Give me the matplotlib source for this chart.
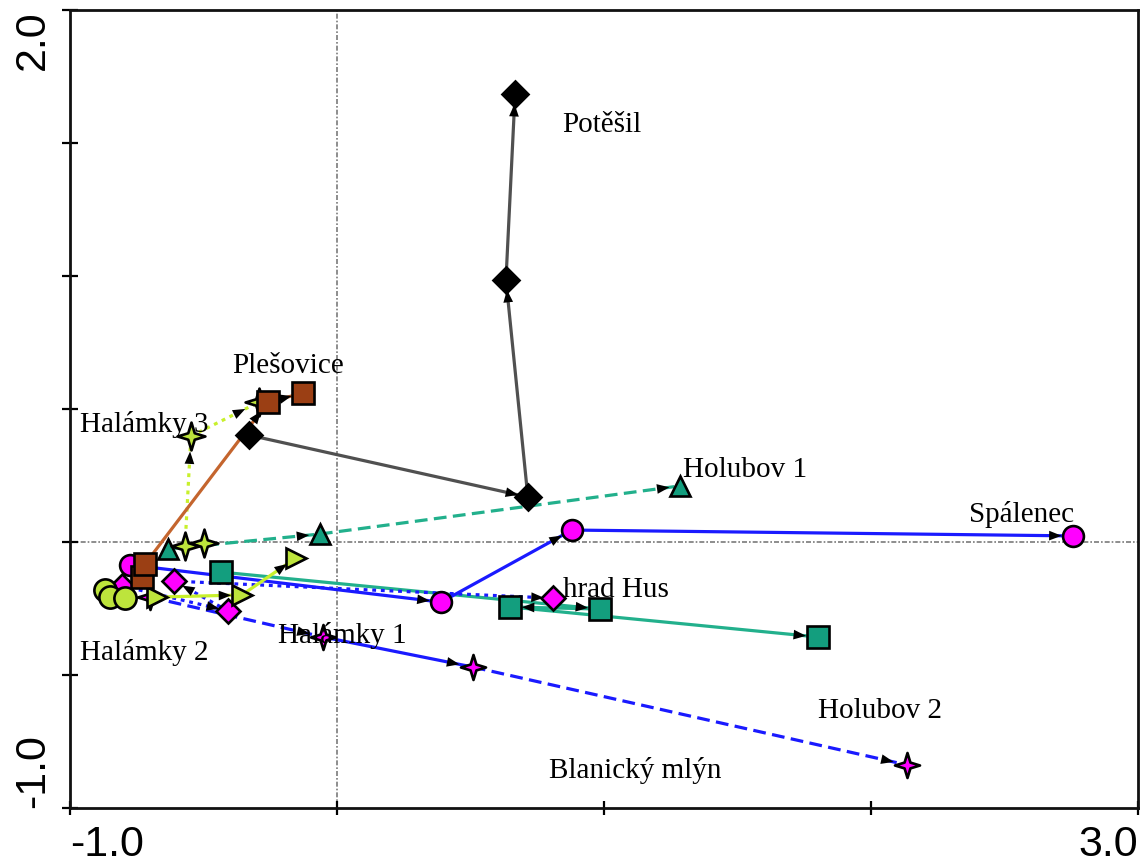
import matplotlib
matplotlib.use('Agg')
import matplotlib.pyplot as plt
import numpy as np
from matplotlib.path import Path

# ---------------- data (ordination scores) ----------------
potesil_x = [-0.330, 0.715, 0.633, 0.667]
potesil_y = [0.402, 0.169, 0.985, 1.684]

plesovice_x = [-0.730, -0.719, -0.258, -0.127]
plesovice_y = [-0.132, -0.083, 0.526, 0.560]

spalenec_x = [-0.775, 0.390, 0.880, 2.757]
spalenec_y = [-0.086, -0.226, 0.045, 0.023]

hradhus_x = [-0.805, -0.408, -0.610, 0.809]
hradhus_y = [-0.165, -0.259, -0.147, -0.211]

halamky1_x = [-0.700, -0.052, 0.509, 2.135]
halamky1_y = [-0.207, -0.357, -0.470, -0.838]

holubov1_x = [-0.633, -0.064, 1.285]
holubov1_y = [-0.026, 0.030, 0.211]

holubov2_x = [-0.434, 0.985, 0.648, 1.801]
holubov2_y = [-0.113, -0.252, -0.244, -0.357]

halamky3_x = [-0.498, -0.569, -0.547, -0.292]
halamky3_y = [-0.004, -0.015, 0.398, 0.526]

halamky2c_x = [-0.869, -0.850, -0.794]
halamky2c_y = [-0.180, -0.207, -0.211]

halamky2t_x = [-0.674, -0.356, -0.154]
halamky2t_y = [-0.207, -0.199, -0.060]

labels = ['Potěšil', 'Plešovice', 'Halámky 3', 'Holubov 1', 'Spálenec',
          'hrad Hus', 'Halámky 1', 'Halámky 2', 'Holubov 2', 'Blanický mlýn']
label_x = [0.843, -0.393, -0.963, 1.296, 2.367, 0.846, -0.221, -0.963, 1.801, 0.794]
label_y = [1.541, 0.635, 0.414, 0.244, 0.075, -0.207, -0.380, -0.444, -0.662, -0.887]

# ---------------- styles ----------------
def star4(inner=0.33):
    verts = []
    for k in range(8):
        ang = np.pi / 2 + k * np.pi / 4
        r = 1.0 if k % 2 == 0 else inner
        verts.append((r * np.cos(ang), r * np.sin(ang)))
    verts.append(verts[0])
    codes = [Path.MOVETO] + [Path.LINETO] * 7 + [Path.CLOSEPOLY]
    return Path(verts, codes)

STAR = star4()

blue = '#1a1aff'
teal_line = '#22b08c'
teal = '#139e7e'
magenta = '#ff00ff'
brown = '#9b3f14'
brown_line = '#c4652e'
ygreen = '#bde43c'
ygreen_line = '#c8f02c'
gray_line = '#505050'

series = [
    # x, y, line color, linestyles per segment, marker, face, size
    (holubov1_x, holubov1_y, teal_line, ['--'], '^', teal, 14),
    (holubov2_x, holubov2_y, teal_line, ['-'], 's', teal, 15.5),
    (halamky1_x, halamky1_y, blue, ['--', '-', '--'], STAR, magenta, 18),
    (hradhus_x, hradhus_y, blue, [':'], 'D', magenta, 12),
    (spalenec_x, spalenec_y, blue, ['-'], 'o', magenta, 15),
    (potesil_x, potesil_y, gray_line, ['-'], 'D', 'black', 13),
    (halamky3_x, halamky3_y, ygreen_line, [':'], STAR, ygreen, 20),
    (halamky2t_x, halamky2t_y, ygreen_line, ['-'], '>', ygreen, 14),
    (plesovice_x, plesovice_y, brown_line, ['-'], 's', brown, 15.5),
    (halamky2c_x, halamky2c_y, ygreen_line, ['-'], 'o', ygreen, 16),
]

# ---------------- figure ----------------
fig = plt.figure(figsize=(11.43, 8.67), dpi=100)
ax = fig.add_axes([0.0612, 0.068, 0.9344, 0.9205])
ax.set_xlim(-1, 3)
ax.set_ylim(-1, 2)

ax.axhline(0, color='#7a7a7a', lw=1.2, ls=(0, (3, 1.2, 1, 1.2)), zorder=1)
ax.axvline(0, color='#7a7a7a', lw=1.2, ls=(0, (3, 1.2, 1, 1.2)), zorder=1)

# lines
for xs, ys, lc, lss, m, fc, ms in series:
    for i in range(len(xs) - 1):
        ls = lss[i] if i < len(lss) else lss[-1]
        if ls == '--':
            ls = (0, (4, 2))
        elif ls == ':':
            ls = (0, (1.2, 1.5))
        ax.plot([xs[i], xs[i + 1]], [ys[i], ys[i + 1]], color=lc, lw=2.3,
                ls=ls, zorder=2)

# arrow heads at segment ends
for xs, ys, lc, lss, m, fc, ms in series:
    for i in range(len(xs) - 1):
        p0 = ax.transData.transform((xs[i], ys[i]))
        p1 = ax.transData.transform((xs[i + 1], ys[i + 1]))
        if np.hypot(*(p1 - p0)) < 35:
            continue
        ax.annotate('', xy=(xs[i + 1], ys[i + 1]), xytext=(xs[i], ys[i]),
                    arrowprops=dict(arrowstyle='-|>,head_length=0.9,head_width=0.35',
                                    mutation_scale=10, lw=0, color='black',
                                    shrinkA=0, shrinkB=ms * 0.55),
                    zorder=3)

# markers
for xs, ys, lc, lss, m, fc, ms in series:
    ax.plot(xs, ys, ls='none', marker=m, ms=ms, mfc=fc, mec='black',
            mew=1.9, zorder=4)

# labels
for t, lx, ly in zip(labels, label_x, label_y):
    ax.text(lx, ly, t, fontsize=21, family='Liberation Serif',
            ha='left', va='baseline', zorder=5)

# axes style
for s in ax.spines.values():
    s.set_linewidth(2)
    s.set_color('#111111')

ax.set_xticks([-1, 0, 1, 2, 3])
ax.set_xticklabels(['-1.0', '', '', '', '3.0'], fontsize=31,
                   family='Liberation Sans')
xl = ax.get_xticklabels()
xl[0].set_ha('left')
xl[-1].set_ha('right')

ax.set_yticks([-1, -0.5, 0, 0.5, 1, 1.5, 2])
ax.set_yticklabels(['-1.0', '', '', '', '', '', '2.0'], fontsize=31,
                   family='Liberation Sans', rotation=90)
yl = ax.get_yticklabels()
yl[0].set_va('bottom')
yl[-1].set_va('top')

ax.tick_params(axis='x', direction='inout', length=10, width=1.6, pad=7)
ax.tick_params(axis='y', direction='inout', length=12, width=1.6, pad=6)

fig.savefig('out.png', dpi=100)
